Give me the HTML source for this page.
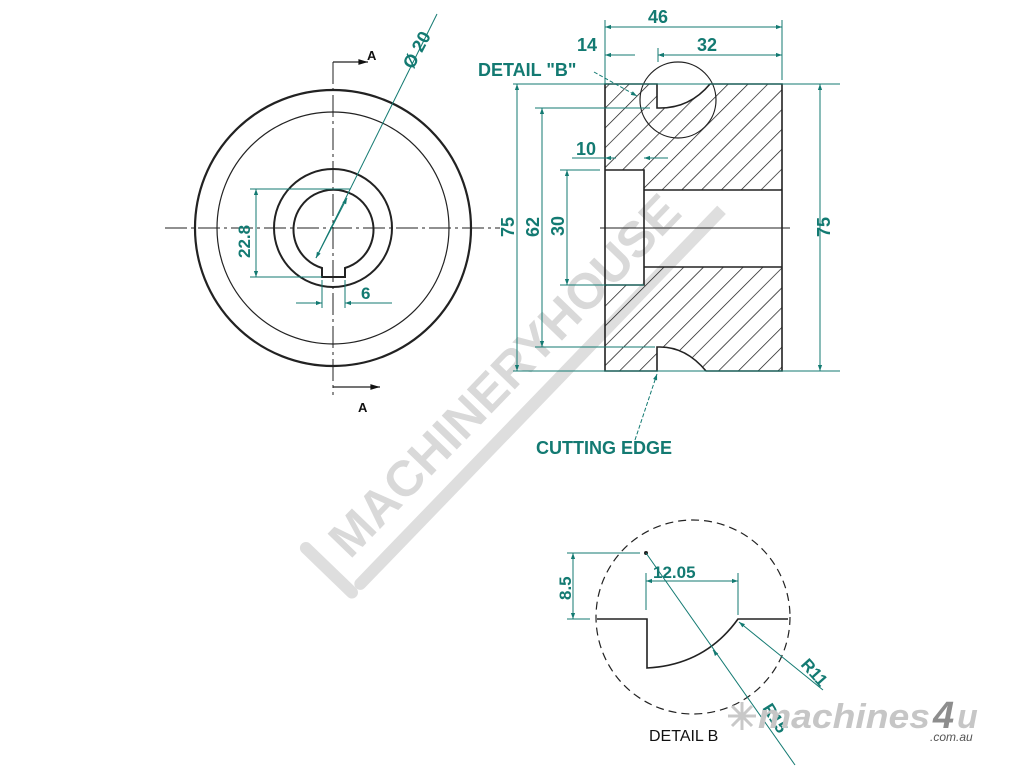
<!DOCTYPE html>
<html><head><meta charset="utf-8"><style>
html,body{margin:0;padding:0;background:#fff;}
svg{display:block;}
.d{font-family:"Liberation Sans",Arial,sans-serif;font-weight:bold;fill:#137a72;}
</style></head><body>
<svg width="1024" height="768" viewBox="0 0 1024 768" xmlns="http://www.w3.org/2000/svg">
<defs>
<pattern id="h" width="14" height="14" patternUnits="userSpaceOnUse" patternTransform="rotate(45)">
<line x1="0" y1="0" x2="0" y2="14" stroke="#111" stroke-width="1.4"/>
</pattern>
<marker id="a" viewBox="0 0 10 10" refX="10" refY="5" markerWidth="9" markerHeight="6" orient="auto-start-reverse"><path d="M0,1.5L10,5L0,8.5z" fill="#137a72"/></marker>
<marker id="k" viewBox="0 0 10 10" refX="10" refY="5" markerWidth="20" markerHeight="8" orient="auto"><path d="M0,2L10,5L0,8z" fill="#111"/></marker>
</defs>

<!-- watermark -->
<g transform="translate(350,560) rotate(-46)">
<text x="0" y="0" font-family="Liberation Sans,Arial,sans-serif" font-weight="bold" font-size="50" fill="#d9d9d9" textLength="480" lengthAdjust="spacingAndGlyphs">MACHINERYHOUSE</text>
<path d="M-10,18 L510,18 L510,30 L-10,30 A6,6 0 0 1 -10,18z" fill="#dedede"/>
<path d="M-22,-40 L-22,24" stroke="#dedede" stroke-width="12" stroke-linecap="round"/>
</g>

<!-- LEFT VIEW -->
<g fill="none" stroke="#222">
<circle cx="333" cy="228" r="138" stroke-width="2.2"/>
<circle cx="333" cy="228" r="116" stroke-width="1.2"/>
<circle cx="333" cy="228" r="59" stroke-width="2"/>
<path d="M322,268 A40,40 0 1 1 345,268 L345,277 L322,277 Z" stroke-width="2"/>
<path d="M165,228 H500" stroke-width="1" stroke-dasharray="22,4,3,4"/>
<path d="M333,62 V395" stroke-width="1" stroke-dasharray="22,4,3,4"/>
<path d="M333,62 H368" stroke-width="1.2" marker-end="url(#k)"/>
<path d="M333,387 H380" stroke-width="1.2" marker-end="url(#k)"/>
</g>
<text x="367" y="60" font-family="Liberation Sans,Arial,sans-serif" font-weight="bold" font-size="13" fill="#111">A</text>
<text x="358" y="412" font-family="Liberation Sans,Arial,sans-serif" font-weight="bold" font-size="13" fill="#111">A</text>

<g stroke="#137a72" stroke-width="1" fill="none">
<path d="M437,14 L316,258" />
<path d="M347,198 L316,258" marker-start="url(#a)" marker-end="url(#a)"/>
<path d="M250,189 H350 M250,277 H322"/>
<path d="M256,189 V277" marker-start="url(#a)" marker-end="url(#a)"/>
<path d="M322,280 V308 M345,280 V308"/>
<path d="M296,303 H322" marker-end="url(#a)"/>
<path d="M392,303 H345" marker-end="url(#a)"/>
</g>
<text class="d" font-size="18" transform="translate(413,70) rotate(-62)">Ø 20</text>
<text class="d" font-size="17" transform="translate(250,258) rotate(-90)">22.8</text>
<text class="d" font-size="17" x="361" y="299">6</text>

<!-- RIGHT VIEW -->
<path fill="url(#h)" fill-rule="evenodd" d="M605,84 L657,84 L657,108 L660,108 Q690,108 710,84 L782,84 L782,190 L644,190 L644,170 L605,170 Z M605,285 L644,285 L644,267 L782,267 L782,371 L706,371 Q686,347 660,347 L657,347 L657,371 L605,371 Z"/>
<g fill="none" stroke="#222" stroke-width="1.6">
<path d="M605,84 L657,84 L657,108 L660,108 Q690,108 710,84 L782,84 L782,371 L706,371 Q686,347 660,347 L657,347 L657,371 L605,371 Z"/>
<path d="M605,170 H644 V285 H605 M644,190 H782 M644,267 H782"/>
<path d="M600,228 H790" stroke-width="1"/>
<circle cx="678" cy="100" r="38" stroke-width="1.2"/>
</g>

<g stroke="#137a72" stroke-width="1" fill="none">
<path d="M605,20 V84 M782,20 V80 M658,48 V62"/>
<path d="M605,27 H782" marker-start="url(#a)" marker-end="url(#a)"/>
<path d="M658,55 H782" marker-start="url(#a)" marker-end="url(#a)"/>
<path d="M635,55 H605" marker-end="url(#a)"/>
<path d="M681,55 H658" marker-end="url(#a)"/>
<path d="M513,84 H840 M535,108 H650 M560,170 H600 M560,285 H644 M535,347 H655 M513,371 H840"/>
<path d="M517,84 V371" marker-start="url(#a)" marker-end="url(#a)"/>
<path d="M542,108 V347" marker-start="url(#a)" marker-end="url(#a)"/>
<path d="M567,170 V285" marker-start="url(#a)" marker-end="url(#a)"/>
<path d="M820,84 V371" marker-start="url(#a)" marker-end="url(#a)"/>
<path d="M572,158 H610"/>
<path d="M616,158 H605" marker-end="url(#a)"/>
<path d="M668,158 H644" marker-end="url(#a)"/>
<path d="M594,72 L637,96" stroke-dasharray="4,2" marker-end="url(#a)"/>
<path d="M635,440 L657,374" stroke-dasharray="4,2" marker-end="url(#a)"/>
</g>
<text class="d" font-size="18" x="648" y="23">46</text>
<text class="d" font-size="18" x="697" y="51">32</text>
<text class="d" font-size="18" x="577" y="51">14</text>
<text class="d" font-size="18" x="478" y="76">DETAIL "B"</text>
<text class="d" font-size="18" x="576" y="155">10</text>
<text class="d" font-size="18" transform="translate(514,237) rotate(-90)">75</text>
<text class="d" font-size="18" transform="translate(539,237) rotate(-90)">62</text>
<text class="d" font-size="18" transform="translate(564,236) rotate(-90)">30</text>
<text class="d" font-size="18" transform="translate(830,237) rotate(-90)">75</text>
<text class="d" font-size="18" x="536" y="454">CUTTING EDGE</text>

<!-- DETAIL B -->
<g fill="none" stroke="#222">
<circle cx="693" cy="617" r="97" stroke-width="1.2" stroke-dasharray="8,5"/>
<path d="M597,619 H647 V668 Q705,665 738,619 H788" stroke-width="1.6"/>
</g>
<circle cx="646" cy="553" r="2" fill="#222"/>
<g stroke="#137a72" stroke-width="1" fill="none">
<path d="M567,553 H640 M567,619 H590"/>
<path d="M573,553 V619" marker-start="url(#a)" marker-end="url(#a)"/>
<path d="M646,573 V610 M738,573 V615"/>
<path d="M646,581 H738" marker-start="url(#a)" marker-end="url(#a)"/>
<path d="M646,553 L795,765"/>
<path d="M716,654 L713,650" marker-end="url(#a)"/>
<path d="M823,690 L739,622" marker-end="url(#a)"/>
</g>
<text class="d" font-size="17" x="653" y="578">12.05</text>
<text class="d" font-size="17" transform="translate(571,600) rotate(-90)">8.5</text>
<text class="d" font-size="17" transform="translate(800,665) rotate(48)">R11</text>
<text class="d" font-size="17" transform="translate(762,708) rotate(58)">R15</text>
<text x="649" y="741" font-family="Liberation Sans,Arial,sans-serif" font-size="16" fill="#111">DETAIL B</text>

<!-- machines4u logo -->
<g stroke="#c8c8c8" stroke-width="3" transform="translate(742,716)">
<path d="M-14,0H14M0,-14V14M-10,-10L10,10M-10,10L10,-10"/>
</g>
<text x="758" y="728" font-family="Liberation Sans,Arial,sans-serif" font-weight="bold" font-style="italic" font-size="34" fill="#c6c6c6" textLength="172" lengthAdjust="spacingAndGlyphs">machines</text>
<text x="933" y="728" font-family="Liberation Sans,Arial,sans-serif" font-weight="bold" font-style="italic" font-size="38" fill="#8d8d8d">4</text>
<text x="957" y="728" font-family="Liberation Sans,Arial,sans-serif" font-weight="bold" font-style="italic" font-size="34" fill="#c6c6c6">u</text>
<text x="930" y="741" font-family="Liberation Sans,Arial,sans-serif" font-style="italic" font-size="12" fill="#555">.com.au</text>
</svg>
</body></html>
